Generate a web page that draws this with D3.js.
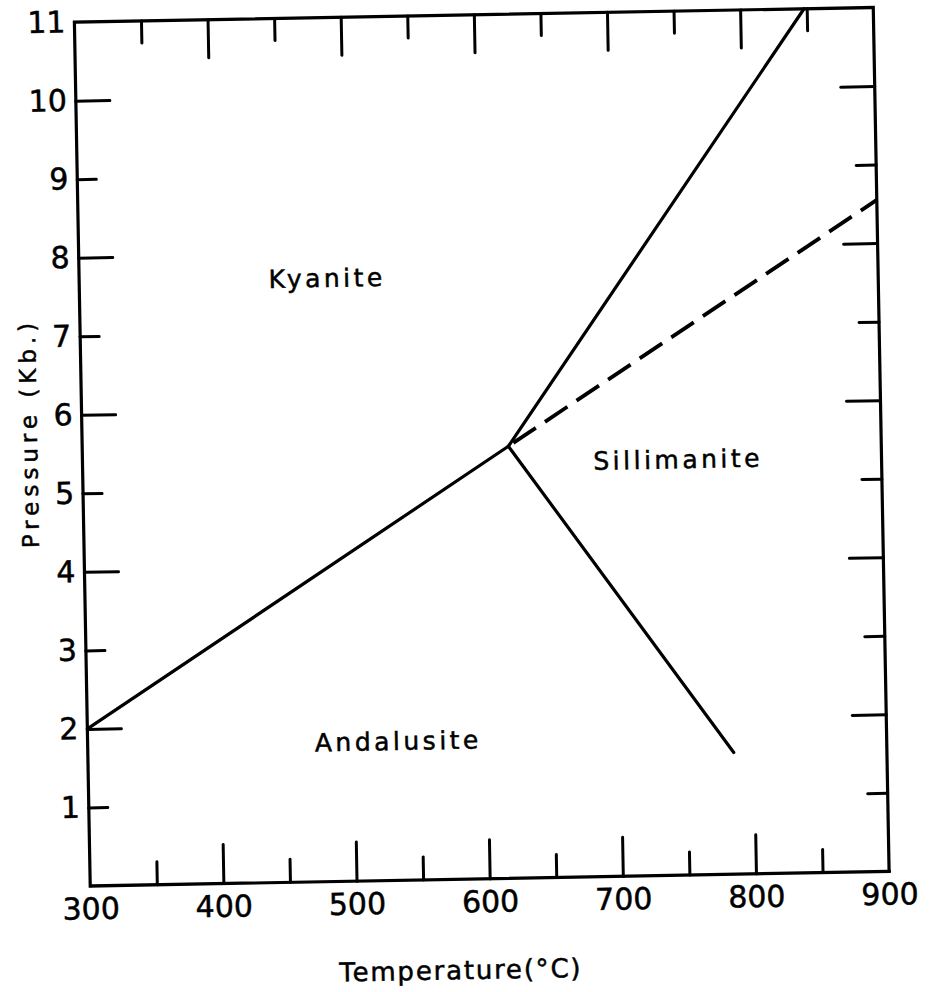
<!DOCTYPE html>
<html>
<head>
<meta charset="utf-8">
<script src="https://cdn.jsdelivr.net/npm/d3@7"></script>
<style>
  body { margin: 0; background: #fff; }
  text { font-family: "DejaVu Sans", sans-serif; fill: #000; stroke: #000; stroke-width: 0.5px; }
  .tick text { font-size: 30px; }
  .region { font-size: 25px; letter-spacing: 3.5px; }
  .title { font-size: 26px; letter-spacing: 1.8px; }
  .ytitle { font-size: 23px; letter-spacing: 5px; }
</style>
</head>
<body>
<script>
// Data
// ================================
// phase boundaries (T in degC, P in kb)
var andKy = [[300, 2.0], [620, 5.5]];
var kySil = [[620, 5.5], [848, 11.0]];
var andSil = [[620, 5.5], [785, 1.55]];
var kySilDashed = [[620, 5.5], [900, 8.55]];

// field labels
var fieldNames = ["Kyanite", "Andalusite", "Sillimanite"];
var fieldT = [485, 532, 746];
var fieldP = [7.57, 1.66, 5.18];

// tick labels
var tempTicks = [300, 400, 500, 600, 700, 800, 900];
var tempMajor = [400, 500, 600, 700, 800];
var tempMinor = [350, 450, 550, 650, 750, 850];
var presTicks = [1, 2, 3, 4, 5, 6, 7, 8, 9, 10, 11];
var presMajor = [2, 4, 6, 8, 10];
var presMinor = [1, 3, 5, 7, 9];

// Step 1: Set up our chart
//= ================================
var svgWidth = 930;
var svgHeight = 992;

var margin = {
  top: 14.75,
  left: 82.25
};

var width = 799;
var height = 864;

var svg = d3.select("body")
  .append("svg")
  .attr("width", svgWidth)
  .attr("height", svgHeight);

// the scanned figure sits slightly tilted
var chartGroup = svg.append("g")
  .attr("transform", `translate(${margin.left}, ${margin.top}) rotate(-1.05, ${width / 2}, ${height / 2})`);

// Step 2: scales
//= ================================
var x = d3.scaleLinear().domain([300, 900]).range([0, width]);
var y = d3.scaleLinear().domain([0, 11]).range([height, 0]);

// Step 3: axes (labels and inward ticks)
//= ================================
function tickAxis(g, axis) {
  g.call(axis);
  g.select(".domain").remove();
  g.selectAll(".tick line").attr("stroke", "#000").attr("stroke-width", 3).attr("stroke-linecap", "round");
  return g;
}

// bottom
tickAxis(chartGroup.append("g").attr("transform", `translate(0, ${height})`),
  d3.axisBottom(x).tickValues(tempTicks).tickSize(0).tickPadding(12).tickFormat(d3.format("d")));
tickAxis(chartGroup.append("g").attr("transform", `translate(0, ${height})`),
  d3.axisBottom(x).tickValues(tempMajor).tickSize(-39).tickFormat(""));
tickAxis(chartGroup.append("g").attr("transform", `translate(0, ${height})`),
  d3.axisBottom(x).tickValues(tempMinor).tickSize(-23).tickFormat(""));

// top
tickAxis(chartGroup.append("g"), d3.axisTop(x).tickValues(tempMajor).tickSize(-38).tickFormat(""));
tickAxis(chartGroup.append("g"), d3.axisTop(x).tickValues(tempMinor).tickSize(-22).tickFormat(""));

// left
tickAxis(chartGroup.append("g"),
  d3.axisLeft(y).tickValues(presTicks).tickSize(0).tickPadding(9).tickFormat(d3.format("d")));
tickAxis(chartGroup.append("g"), d3.axisLeft(y).tickValues(presMajor).tickSize(-34).tickFormat(""));
tickAxis(chartGroup.append("g"), d3.axisLeft(y).tickValues(presMinor).tickSize(-19).tickFormat(""));

// right
tickAxis(chartGroup.append("g").attr("transform", `translate(${width}, 0)`),
  d3.axisRight(y).tickValues(presMajor).tickSize(-34).tickFormat(""));
tickAxis(chartGroup.append("g").attr("transform", `translate(${width}, 0)`),
  d3.axisRight(y).tickValues(presMinor).tickSize(-20).tickFormat(""));

chartGroup.selectAll(".tick text").attr("fill", "#000").style("font-family", "DejaVu Sans, sans-serif");

// frame
chartGroup.append("rect")
  .attr("x", 0)
  .attr("y", 0)
  .attr("width", width)
  .attr("height", height)
  .attr("fill", "none")
  .attr("stroke", "#000")
  .attr("stroke-width", 3.2);

// Step 4: phase boundaries
//= ================================
var line = d3.line()
  .x(d => x(d[0]))
  .y(d => y(d[1]));

[andKy, kySil, andSil].forEach(function(seg) {
  chartGroup.append("path")
    .datum(seg)
    .attr("d", line)
    .attr("fill", "none")
    .attr("stroke", "#000")
    .attr("stroke-width", 3.2)
    .attr("stroke-linecap", "round");
});

chartGroup.append("path")
  .datum(kySilDashed)
  .attr("d", line)
  .attr("fill", "none")
  .attr("stroke", "#000")
  .attr("stroke-width", 3.8)
  .attr("stroke-dasharray", "27,11")
  .attr("stroke-dashoffset", 32);

// Step 5: field names and axis titles
//= ================================
chartGroup.selectAll(".region")
  .data(fieldNames)
  .enter()
  .append("text")
  .classed("region", true)
  .attr("x", (d, i) => x(fieldT[i]))
  .attr("y", (d, i) => y(fieldP[i]))
  .attr("dx", 1.75)
  .attr("text-anchor", "middle")
  .text(d => d);

chartGroup.append("text")
  .classed("title", true)
  .attr("x", width / 2 - 30.5)
  .attr("y", height + 100)
  .attr("text-anchor", "middle")
  .text("Temperature(°C)");

chartGroup.append("text")
  .classed("ytitle", true)
  .attr("transform", "rotate(-90)")
  .attr("x", -(height / 2 - 22))
  .attr("y", -45)
  .attr("text-anchor", "middle")
  .text("Pressure (Kb.)");
</script>
</body>
</html>
